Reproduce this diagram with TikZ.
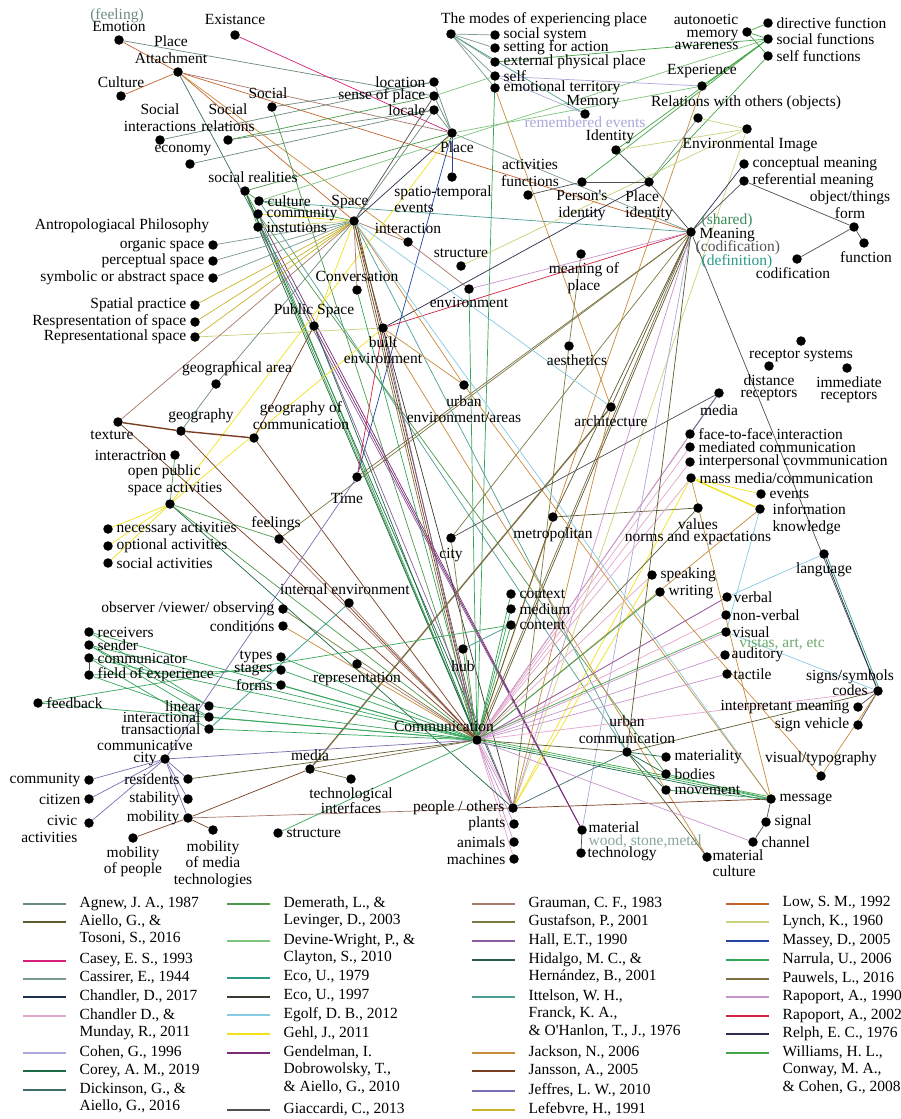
\documentclass[tikz,border=0pt]{standalone}
\usepackage{fontspec}
\setmainfont{Liberation Serif}
\usetikzlibrary{positioning, backgrounds}

% reference colours (one per source)
\definecolor{kAgnew}{HTML}{6B8A7A}
\definecolor{kAiello}{HTML}{5C5A2E}
\definecolor{kCasey}{HTML}{D4207A}
\definecolor{kCassirer}{HTML}{7A9A8C}
\definecolor{kChandA}{HTML}{1E3050}
\definecolor{kChandB}{HTML}{E6A6CC}
\definecolor{kCohen}{HTML}{A9A9DC}
\definecolor{kCorey}{HTML}{1D6B45}
\definecolor{kDickin}{HTML}{3F6B6B}
\definecolor{kDemer}{HTML}{4D9A4D}
\definecolor{kDevine}{HTML}{7DC47D}
\definecolor{kEcoA}{HTML}{2A9A88}
\definecolor{kEcoB}{HTML}{3A3A30}
\definecolor{kEgolf}{HTML}{86CBE0}
\definecolor{kGehl}{HTML}{F2E21C}
\definecolor{kGendel}{HTML}{7A2A78}
\definecolor{kGiacc}{HTML}{4E4E4E}
\definecolor{kGraum}{HTML}{A8786A}
\definecolor{kGustaf}{HTML}{7C7A40}
\definecolor{kHall}{HTML}{8C5C9C}
\definecolor{kHidal}{HTML}{2C5A48}
\definecolor{kIttel}{HTML}{4F9E94}
\definecolor{kJacks}{HTML}{C98A3A}
\definecolor{kJanss}{HTML}{7A3E22}
\definecolor{kJeffr}{HTML}{7C6CB4}
\definecolor{kLefeb}{HTML}{C8B428}
\definecolor{kLow}{HTML}{C4642A}
\definecolor{kLynch}{HTML}{CAD27A}
\definecolor{kMassey}{HTML}{2444A0}
\definecolor{kNarru}{HTML}{35A55A}
\definecolor{kPauw}{HTML}{7A7044}
\definecolor{kRapA}{HTML}{C896CC}
\definecolor{kRapB}{HTML}{D42244}
\definecolor{kRelph}{HTML}{2C2C4C}
\definecolor{kWilli}{HTML}{46A446}
% text colours
\definecolor{kFeelTxt}{HTML}{6E8F7F}
\definecolor{kRemTxt}{HTML}{A9A9DC}
\definecolor{kShareTxt}{HTML}{3D8C5A}
\definecolor{kCodTxt}{HTML}{555555}
\definecolor{kDefTxt}{HTML}{2A9A8A}
\definecolor{kVistaTxt}{HTML}{6AAA6A}
\definecolor{kWoodTxt}{HTML}{8AA898}

\newcommand{\lblfont}{\fontsize{15.5}{16.5}\selectfont}
\newcommand{\tightfont}{\fontsize{15.5}{12.5}\selectfont}
\newcommand{\keyfont}{\fontsize{15.5}{17.5}\selectfont}
\newcommand{\keyrow}[5]{%
  \draw [swatch, #4] (#2-55,#3) -- (#2-12,#3);
  \node (#1) [lbl, font=\keyfont, anchor=north west, align=left] at (#2,#3-9) {#5};}

\tikzset{
  dot/.style={circle, fill=black, inner sep=0pt, minimum size=9.5pt},
  lbl/.style={font=\lblfont, inner sep=1.5pt},
  link/.style={line width=0.7pt},
  fat/.style={line width=1.4pt},
  swatch/.style={line width=2.4pt}
}

\begin{document}
\begin{tikzpicture}[x=1pt, y=-1pt,
    every label/.style={lbl}, label distance=2pt]
    \useasboundingbox (0,0) rectangle (901,1119);

    % top left
    \node (emo) [dot, label={above:Emotion}] at (119,40) {};
    \node (feel) [lbl, text=kFeelTxt] at (117,16) {(feeling)};
    \node (exist) [dot, label={[label distance=4pt]above:Existance}] at (235,35) {};
    \node (patt) [dot, label={[align=center, xshift=-7pt]above:Place\\Attachment}] at (178,72) {};
    \node (cult) [dot, label={above:Culture}] at (121,96) {};
    \node (soc) [dot, label={[xshift=-4pt]above:Social}] at (272,107) {};
    \node (sint) [dot, label={[align=center]above:Social\\interactions}] at (160,140) {};
    \node (srel) [dot, label={[align=center]above:Social\\relations}] at (228,140) {};
    \node (econ) [dot, label={[xshift=-7pt]above:economy}] at (190,164) {};
    \node (sreal) [dot, label={[xshift=8pt]above:social realities}] at (245,191) {};
    \node (cultr) [dot, label={right:culture}] at (259,201) {};
    \node (comty) [dot, label={right:community}] at (258,214) {};
    \node (inst) [dot, label={right:instutions}] at (258,227) {};
    \node (anth) [lbl] at (122,226) {Antropologiacal Philosophy};
    \node (orgs) [dot, label={left:organic space}] at (213,245) {};
    \node (percs) [dot, label={left:perceptual space}] at (213,261) {};
    \node (syms) [dot, label={left:symbolic or abstract space}] at (213,278) {};
    \node (spra) [dot, label={left:Spatial practice}] at (195,305) {};
    \node (resp) [dot, label={left:Respresentation of space}] at (195,322) {};
    \node (reps) [dot, label={left:Representational space}] at (195,337) {};

    % top centre
    \node (mdot) [dot, label={[xshift=93pt, label distance=1pt]above:The modes of experiencing place}] at (451,34) {};
    \node (ssys) [dot, label={right:social system}] at (495,35) {};
    \node (sact) [dot, label={right:setting for action}] at (495,48) {};
    \node (epp) [dot, label={right:external physical place}] at (495,62) {};
    \node (self) [dot, label={right:self}] at (495,76) {};
    \node (emot) [dot, label={right:emotional territory}] at (495,88) {};
    \node (loc) [dot, label={left:location}] at (434,82) {};
    \node (sop) [dot, label={left:sense of place}] at (434,96) {};
    \node (locale) [dot, label={left:locale}] at (434,110) {};
    \node (place) [dot, label={[xshift=5pt]below:Place}] at (452,133) {};
    \node (ste) [dot, label={[align=left, xshift=-9pt]below:spatio-temporal\\events}] at (452,177) {};
    \node (mem) [dot, label={[xshift=8pt, label distance=-1pt]above:Memory},
        label={[text=kRemTxt, label distance=-4pt]below:remembered events}] at (585,114) {};
    \node (actf) [dot, label={[align=center, xshift=2pt]above:activities\\functions}] at (528,195) {};
    \node (pid) [dot, label={[align=center]below:Person\textquotesingle s\\identity}] at (582,182) {};
    \node (space) [dot, label={[xshift=-4pt, label distance=6pt]above:Space}] at (354,221) {};
    \node (inter) [dot, label={above:interaction}] at (408,242) {};
    \node (struct) [dot, label={above:structure}] at (461,266) {};
    \node (conv) [dot, label={above:Conversation}] at (357,290) {};
    \node (mop) [dot, label={[align=center, xshift=3pt]below:meaning of\\place}] at (581,254) {};
    \node (env) [dot, label={below:environment}] at (469,289) {};

    % top right
    \node (auto) [dot, label={[align=right, font=\tightfont]left:autonoetic\\memory\\awareness}] at (747,32) {};
    \node (dirf) [dot, label={right:directive function}] at (768,23) {};
    \node (socf) [dot, label={right:social functions}] at (768,39) {};
    \node (selff) [dot, label={right:self functions}] at (768,56) {};
    \node (exper) [dot, label={above:Experience}] at (702,86) {};
    \node (relo) [dot, label={[xshift=48pt]above:Relations with others (objects)}] at (698,118) {};
    \node (envi) [dot, label={[xshift=3pt]below:Environmental Image}] at (747,129) {};
    \node (ident) [dot, label={[label distance=0pt, xshift=-6pt]above:Identity}] at (616,150) {};
    \node (plid) [dot, label={[align=left]below:Place\\identity}] at (649,182) {};
    \node (conm) [dot, label={right:conceptual meaning}] at (744,164) {};
    \node (refm) [dot, label={right:referential meaning}] at (744,181) {};
    \node (form) [dot, label={[align=center, xshift=-4pt]above:object/things\\form}] at (854,227) {};
    \node (func) [dot, label={[xshift=2pt]below:function}] at (864,243) {};
    \node (codif) [dot, label={[xshift=-4pt]below:codification}] at (797,259) {};
    \node (mean) [dot] at (691,232) {};
    \node (mshr) [lbl, text=kShareTxt, anchor=west] at (700,221) {(shared)};
    \node (mtxt) [lbl, anchor=west] at (698,235) {Meaning};
    \node (mcod) [lbl, text=kCodTxt, anchor=west] at (694,248) {(codification)};
    \node (mdef) [lbl, text=kDefTxt, anchor=west] at (700,262) {(definition)};

    % right middle
    \node (recs) [dot, label={below:receptor systems}] at (801,341) {};
    \node (distr) [dot, label={[align=center, font=\tightfont]below:distance\\receptors}] at (769,366) {};
    \node (immr) [dot, label={[align=center, font=\tightfont, xshift=2pt]below:immediate\\receptors}] at (847,368) {};
    \node (mediar) [dot, label={[label distance=5pt]below:media}] at (719,393) {};
    \node (ftf) [dot, label={right:face-to-face interaction}] at (690,434) {};
    \node (medc) [dot, label={right:mediated communication}] at (690,447) {};
    \node (ipc) [dot, label={right:interpersonal covmmunication}] at (690,462) {};
    \node (mmc) [dot, label={right:mass media/communication}] at (691,478) {};
    \node (evts) [dot, label={right:events}] at (761,494) {};
    \node (info) [dot] at (760,509) {};
    \node (infol) [lbl, align=left, anchor=west] at (771,519) {information\\knowledge};
    \node (vals) [dot, label={[align=center, font=\tightfont, label distance=4pt]below:values\\norms and expactations}] at (698,508) {};
    \node (arch) [dot, label={below:architecture}] at (611,407) {};
    \node (lang) [dot, label={below:language}] at (824,554) {};

    % middle
    \node (pubs) [dot, label={above:Public Space}] at (314,326) {};
    \node (bltenv) [dot, label={[align=center]below:built\\environment}] at (383,328) {};
    \node (aesth) [dot, label={[xshift=8pt]below:aesthetics}] at (569,346) {};
    \node (urbenv) [dot, label={[align=center, label distance=4pt]below:urban\\environment/areas}] at (464,385) {};
    \node (time) [dot, label={[xshift=-10pt, label distance=10pt]below:Time}] at (357,477) {};
    \node (metro) [dot, label={[label distance=4pt]below:metropolitan}] at (553,517) {};
    \node (city) [dot, label={[label distance=4pt]below:city}] at (451,538) {};

    % left middle
    \node (garea) [dot, label={[xshift=21pt]above:geographical area}] at (216,384) {};
    \node (text) [dot, label={[xshift=-6pt]below:texture}] at (118,422) {};
    \node (geog) [dot, label={[xshift=20pt]above:geography}] at (181,431) {};
    \node (gcom) [dot, label={[align=center, xshift=47pt]above:geography of\\communication}] at (254,438) {};
    \node (intr) [dot, label={left:interactrion}] at (175,455) {};
    \node (opsa) [dot, label={[align=left, xshift=5pt]above:open public\\space activities}] at (170,504) {};
    \node (necs) [dot, label={right:necessary activities}] at (108,529) {};
    \node (opts) [dot, label={right:optional activities}] at (108,546) {};
    \node (socs) [dot, label={right:social activities}] at (108,563) {};
    \node (feel2) [dot, label={[xshift=-3pt]above:feelings}] at (279,539) {};

    % lower left
    \node (obsv) [dot, label={left:observer /viewer/ observing}] at (283,609) {};
    \node (cond) [dot, label={left:conditions}] at (283,626) {};
    \node (intenv) [dot, label={[xshift=-4pt]above:internal environment}] at (349,603) {};
    \node (recv) [dot, label={right:receivers}] at (89,632) {};
    \node (send) [dot, label={right:sender}] at (89,645) {};
    \node (commr) [dot, label={right:communicator}] at (89,658) {};
    \node (foe) [dot, label={right:field of experience}] at (89,675) {};
    \node (types) [dot, label={left:types}] at (281,657) {};
    \node (stages) [dot, label={left:stages}] at (281,670) {};
    \node (forms) [dot, label={left:forms}] at (281,685) {};
    \node (repr) [dot, label={below:representation}] at (357,664) {};
    \node (fback) [dot, label={right:feedback}] at (38,703) {};
    \node (lin) [dot, label={left:linear}] at (209,706) {};
    \node (intal) [dot, label={left:interactional}] at (209,717) {};
    \node (trans) [dot, label={left:transactional}] at (209,729) {};
    \node (ccity) [dot] at (165,759) {};
    \node (ccl) [lbl, align=center, font=\tightfont] at (145,753) {communicative\\city};
    \node (cmty) [dot, label={left:community}] at (89,780) {};
    \node (resid) [dot, label={left:residents}] at (188,779) {};
    \node (citz) [dot, label={left:citizen}] at (89,799) {};
    \node (stab) [dot, label={left:stability}] at (188,799) {};
    \node (civic) [dot] at (89,823) {};
    \node (civl) [lbl, align=right, anchor=north east] at (79,814) {civic\\activities};
    \node (mobil) [dot, label={left:mobility}] at (188,818) {};
    \node (mobp) [dot, label={[align=center]below:mobility\\of people}] at (133,838) {};
    \node (mobm) [dot, label={[align=center, label distance=4pt]below:mobility\\of media\\technologies}] at (213,830) {};
    \node (strb) [dot, label={right:structure}] at (278,833) {};

    % lower centre
    \node (ctx) [dot, label={right:context}] at (511,594) {};
    \node (medm) [dot, label={right:medium}] at (511,609) {};
    \node (cont) [dot, label={right:content}] at (511,625) {};
    \node (hub) [dot, label={[label distance=5pt]below:hub}] at (463,649) {};
    \node (commn) [dot, label={[xshift=-33pt]above:Communication}] at (477,740) {};
    \node (medl) [dot, label={above:media}] at (310,769) {};
    \node (techi) [dot, label={[align=center, font=\tightfont]below:technological\\interfaces}] at (351,779) {};
    \node (ppl) [dot, label={left:people / others}] at (513,808) {};
    \node (plnt) [dot, label={left:plants}] at (514,824) {};
    \node (anml) [dot, label={left:animals}] at (514,842) {};
    \node (mach) [dot, label={left:machines}] at (514,859) {};
    \node (matl) [dot, label={[label distance=0pt, yshift=3pt]right:material}] at (582,830) {};
    \node (wood) [lbl, text=kWoodTxt, anchor=west] at (587,841) {wood, stone,metal};
    \node (tech) [dot, label={[label distance=0pt, yshift=-1pt]right:technology}] at (581,853) {};

    % lower right
    \node (speak) [dot, label={right:speaking}] at (652,575) {};
    \node (writ) [dot, label={right:writing}] at (660,592) {};
    \node (verb) [dot, label={[label distance=0pt]right:verbal}] at (727,597) {};
    \node (nverb) [dot, label={[label distance=0pt]right:non-verbal}] at (726,615) {};
    \node (vis) [dot, label={[label distance=0pt]right:visual}] at (726,632) {};
    \node (vist) [lbl, text=kVistaTxt] at (782,644) {vistas, art, etc};
    \node (aud) [dot, label={[label distance=0pt]right:auditory}] at (725,655) {};
    \node (tact) [dot, label={[label distance=0pt]right:tactile}] at (727,674) {};
    \node (signs) [dot] at (878,691) {};
    \node (sgnl) [lbl, align=center, font=\tightfont] at (850,683) {signs/symbols\\codes};
    \node (intm) [dot, label={left:interpretant meaning}] at (858,707) {};
    \node (sveh) [dot, label={left:sign vehicle}] at (858,725) {};
    \node (vtyp) [dot, label={[label distance=4pt]above:visual/typography}] at (821,776) {};
    \node (urbc) [dot, label={[align=center]above:urban\\communication}] at (627,752) {};
    \node (matr) [dot, label={right:materiality}] at (666,757) {};
    \node (bod) [dot, label={right:bodies}] at (666,774) {};
    \node (mov) [dot, label={right:movement}] at (666,790) {};
    \node (msg) [dot, label={right:message}] at (771,799) {};
    \node (sig) [dot, label={right:signal}] at (766,822) {};
    \node (chan) [dot, label={right:channel}] at (753,842) {};
    \node (matc) [dot] at (707,857) {};
    \node (matcl) [lbl, align=left, anchor=north west] at (711,848) {material\\culture};

    \begin{pgfonlayer}{background}
    \fill [white] (0,0) rectangle (901,1119);
    % place attachment and the social nodes
    \path [link]
        (emo) edge [kLow] (patt)
        (emo) edge [kAgnew] (sop)
        (cult) edge [kLow] (patt)
        (patt) edge [kLow] (space)
        (patt) edge [kJacks] (inter)
        (patt) edge [kLow] (mean)
        (patt) edge [kDickin] (pubs)
        (patt) edge [kGraum] (place)
        (exist) edge [kCasey] (place)
        (soc) edge [kAgnew] (loc)
        (soc) edge [kDemer] (commn)
        (sint) edge [kAgnew] (loc)
        (srel) edge [kDemer] (sop)
        (srel) edge [kAgnew] (locale)
        (econ) edge [kAgnew] (locale)
        (sreal) edge [kDemer] (place)
        (sreal) edge [kDemer] (cultr)
        (sreal) edge [kDemer] (comty)
        (sreal) edge [kDemer] (inst)
        (sreal) edge [kDemer] (commn)
        (sreal) edge [kCorey] (ppl)
        (cultr) edge [kWilli] (space)
        (cultr) edge [kIttel] (mean)
        (cultr) edge [kIttel] (urbc)
        (comty) edge [kGehl] (space)
        (comty) edge [kGendel] (matl)
        (comty) edge [kNarru] (commn)
        (comty) edge [kDemer] (bod)
        (inst) edge [kLynch] (space)
        (inst) edge [kHall] (matl)
        (inst) edge [kCorey] (commn)
        (orgs) edge [kCassirer] (space)
        (percs) edge [kCassirer] (space)
        (syms) edge [kCassirer] (space)
        (spra) edge [kLefeb] (space)
        (resp) edge [kLefeb] (space)
        (reps) edge [kLefeb] (space)
        (reps) edge [kLynch] (bltenv);
    % place and the modes
    \path [link]
        (loc) edge [kAgnew] (place)
        (sop) edge [kAgnew] (place)
        (locale) edge [kAgnew] (place)
        (sop) edge [kGiacc] (space)
        (locale) edge [kAgnew] (space)
        (sop) edge [kDevine] (self)
        (place) edge [kMassey] (ste)
        (place) edge [kMassey] (time)
        (place) edge [kGehl] (opsa)
        (place) edge [kDevine] (exper)
        (place) edge [kCassirer] (mean)
        (place) edge [kRelph] (space)
        (mdot) edge [kCassirer] (ssys)
        (mdot) edge [kCassirer] (sact)
        (mdot) edge [kCassirer] (epp)
        (mdot) edge [kCassirer] (self)
        (mdot) edge [kCassirer] (emot)
        (mdot) edge [kIttel] (mem)
        (self) edge [kCohen] (mem)
        (self) edge [kCohen] (exper)
        (self) edge [kNarru] (commn)
        (emot) edge [kJacks] (arch);
    % memory, identity, image
    \path [link]
        (epp) edge [kWilli] (socf)
        (socf) edge [kWilli] (pid)
        (socf) edge [kWilli] (ident)
        (socf) edge [kWilli] (exper)
        (socf) edge [kDevine] (cultr)
        (dirf) edge [kWilli] (auto)
        (auto) edge [kWilli] (socf)
        (auto) edge [kWilli] (selff)
        (selff) edge [kWilli] (plid)
        (exper) edge [kJacks] (commn)
        (relo) edge [kLynch] (envi)
        (relo) edge [kCassirer] (plid)
        (envi) edge [kLynch] (ident)
        (envi) edge [kLynch] (ppl)
        (envi) edge [kLynch] (struct)
        (ident) edge [kHidal] (plid)
        (plid) edge [kGiacc] (pid)
        (plid) edge [kGiacc] (mean)
        (bltenv) edge [kRelph] (plid)
        (pid) edge [kGiacc] (actf);
    % meaning
    \path [link]
        (mean) edge [kChandA] (conm)
        (mean) edge [kGiacc] (refm)
        (refm) edge [kGiacc] (form)
        (form) edge [kGiacc] (func)
        (form) edge [kGiacc] (codif)
        (mean) edge [kGiacc] (signs)
        (mean) edge [kRapB] (bltenv)
        (mean) edge [kRapA] (env)
        (mean) edge [kPauw] (commn)
        ([xshift=2pt]mean.center) edge [kAiello] ([xshift=2pt]commn.center)
        (mean) edge [kGustaf] (city)
        (mean) edge [kAiello] (metro)
        (mean) edge [kRapA] (ppl)
        (mean) edge [kCohen] (matl)
        (mean) edge [kPauw] (time)
        (mean) edge [kGustaf] (feel2)
        (mop) edge [kGustaf] (aesth)
        (aesth) edge [kGustaf] (ppl);
    % space and built environment
    \path [link]
        (space) edge [kJanss] (bltenv)
        (space) edge [kJanss] (commn)
        ([xshift=2pt]space.center) edge [kAiello] ([xshift=2pt]commn.center)
        ([xshift=-2pt]space.center) edge [kGustaf] ([xshift=-2pt]commn.center)
        (space) edge [kGraum] (conv)
        (space) edge [kGehl] (pubs)
        (space) edge [kGraum] (inter)
        (inter) edge [kGraum] (env)
        (space) edge [kEgolf] (msg)
        (space) edge [kEgolf] (arch)
        (space) edge [kIttel] (urbc)
        (conv) edge [kNarru] (commn)
        (pubs) edge [kGendel] (matl)
        (pubs) edge [kHall] (ppl)
        (pubs) edge [kCorey] (commn)
        (bltenv) edge [kHall] (commn)
        (bltenv) edge [kEcoB] (ppl)
        (bltenv) edge [kJacks] (urbenv)
        (bltenv) edge [kJacks] (matc)
        (bltenv) edge [kGehl] (opsa)
        (env) edge [kNarru] (commn)
        (urbenv) edge [kJacks] (space)
        (urbenv) edge [kJacks] (msg)
        (time) edge [kRapB] (bltenv)
        (city) edge [kGiacc] (mediar)
        (city) edge [kGustaf] (commn)
        (metro) edge [kAiello] (vals)
        (metro) edge [kAiello] (commn)
        (arch) edge [kAiello] (mean)
        (arch) edge [kJacks] (ppl);
    \path [fat] (arch) edge [kPauw] (medl);
    % media, senses, signs
    \path [link]
        (mediar) edge [kGiacc] (ftf)
        (mediar) edge [kJeffr] (commn)
        (ftf) edge [kChandB] (commn)
        (medc) edge [kChandB] (commn)
        (ipc) edge [kChandB] (commn)
        (mmc) edge [kChandB] (commn)
        (mmc) edge [kGehl] (evts)
        (mmc) edge [kGehl] (ppl)
        (info) edge [kJacks] (commn)
        (info) edge [kEgolf] (vis)
        (vals) edge [kAiello] (commn)
        (lang) edge [kChandA] (signs)
        ([xshift=2pt]lang.center) edge [kEcoA] ([xshift=2pt]signs.center)
        (lang) edge [kEgolf] (verb)
        (speak) edge [kChandB] (commn)
        (speak) edge [kGehl] (ppl)
        (writ) edge [kNarru] (commn)
        (verb) edge [kChandB] (commn)
        (verb) edge [kHall] (commn)
        (nverb) edge [kChandB] (commn)
        (vis) edge [kRapA] (commn)
        ([yshift=2pt]vis.center) edge [kWilli] ([yshift=2pt]commn.center)
        (aud) edge [kRapA] (commn)
        (tact) edge [kRapA] (commn)
        (vis) edge [kEgolf] (signs)
        (commn) edge [kChandB] (signs)
        (signs) edge [kGiacc] (intm)
        (signs) edge [kGiacc] (sveh)
        (signs) edge [kJacks] (vtyp)
        (signs) edge [kAiello] (urbc)
        (vtyp) edge [kJacks] (writ);
    \path [fat] (mmc) edge [kGehl] (info);
    % urban communication and message
    \path [link]
        (urbc) edge [kCorey] (matr)
        (urbc) edge [kCorey] (bod)
        (urbc) edge [kCorey] (mov)
        (urbc) edge [kAiello] (commn)
        (urbc) edge [kAiello] (matc)
        (urbc) edge [kAiello] (mean)
        (urbc) edge [kDickin] (ppl)
        (msg) edge [kGiacc] (sig)
        (sig) edge [kGiacc] (chan)
        (msg) edge [kNarru] (commn)
        ([yshift=2pt]msg.center) edge [kWilli] ([yshift=2pt]commn.center)
        ([yshift=-2pt]msg.center) edge [kCorey] ([yshift=-2pt]commn.center)
        (msg) edge [kJanss] (ppl)
        (msg) edge [kNarru] (bod)
        (msg) edge [kNarru] (mov)
        (msg) edge [kJacks] (mmc)
        (chan) edge [kRapA] (commn)
        (matl) edge [kGiacc] (tech)
        (commn) edge [kRapA] (ppl)
        ([xshift=2pt]commn.center) edge [kChandB] ([xshift=2pt]ppl.center)
        (commn) edge [kRapA] (plnt)
        (commn) edge [kRapA] (anml)
        (commn) edge [kChandB] (mach)
        (hub) edge [kNarru] (commn)
        (hub) edge [kIttel] (cont)
        (ctx) edge [kNarru] (commn)
        (medm) edge [kNarru] (commn)
        (cont) edge [kNarru] (commn);
    % left side
    \path [link]
        (intenv) edge [kGraum] (commn)
        (obsv) edge [kGustaf] (commn)
        (cond) edge [kJacks] (commn)
        (repr) edge [kGraum] (commn)
        (types) edge [kNarru] (commn)
        (stages) edge [kNarru] (commn)
        (forms) edge [kNarru] (commn)
        (foe) edge [kNarru] (stages)
        (feel2) edge [kDemer] (opsa)
        (feel2) edge [kGraum] (commn)
        (necs) edge [kGehl] (opsa)
        (opts) edge [kGehl] (opsa)
        (socs) edge [kGehl] (opsa)
        (intr) edge [kDemer] (opsa)
        (opsa) edge [kCorey] (ppl)
        (opsa) edge [kDemer] (commn)
        (text) edge [kGraum] (space)
        (text) edge [kJanss] (commn)
        (garea) edge [kAgnew] (geog)
        (garea) edge [kAgnew] (space)
        (geog) edge [kJanss] (commn)
        (gcom) edge [kJanss] (commn)
        (gcom) edge [kJanss] (pubs)
        (recv) edge [kNarru] (lin)
        (recv) edge [kNarru] (commn)
        (send) edge [kNarru] (lin)
        (send) edge [kNarru] (intal)
        (send) edge [kNarru] (commn)
        (commr) edge [kNarru] (trans)
        (commr) edge [kNarru] (commn)
        (commr) edge [kGiacc] (foe)
        (foe) edge [kNarru] (intal)
        (fback) edge [kNarru] (cont)
        (fback) edge [kNarru] (commn)
        (lin) edge [kNarru] (commn)
        (intal) edge [kNarru] (commn)
        (trans) edge [kNarru] (commn)
        (trans) edge [kEcoA] (intenv);
    \path [fat]
        (text) edge [kJanss] (geog)
        (geog) edge [kJanss] (gcom);
    % communicative city
    \path [link]
        (ccity) edge [kJeffr] (cmty)
        (ccity) edge [kJeffr] (citz)
        (ccity) edge [kJeffr] (civic)
        (ccity) edge [kJeffr] (resid)
        (ccity) edge [kJeffr] (stab)
        (ccity) edge [kJeffr] (mobil)
        (ccity) edge [kJeffr] (commn)
        (ccity) edge [kJeffr] (time)
        (resid) edge [kAiello] (commn)
        (mobil) edge [kJanss] (medl)
        (mobil) edge [kGraum] (ppl)
        (mobil) edge [kJanss] (mobp)
        (mobil) edge [kJanss] (mobm)
        (medl) edge [kPauw] (techi)
        (medl) edge [kPauw] (commn)
        (strb) edge [kNarru] (commn);
    \end{pgfonlayer}

    % key
    \keyrow{k1}{78}{904}{kAgnew}{Agnew, J. A., 1987}
    \keyrow{k2}{78}{922}{kAiello}{Aiello, G., \&\\Tosoni, S., 2016}
    \keyrow{k3}{78}{961}{kCasey}{Casey, E. S., 1993}
    \keyrow{k4}{78}{979}{kCassirer}{Cassirer, E., 1944}
    \keyrow{k5}{78}{997}{kChandA}{Chandler, D., 2017}
    \keyrow{k6}{78}{1016}{kChandB}{Chandler D., \&\\Munday, R., 2011}
    \keyrow{k7}{78}{1053}{kCohen}{Cohen, G., 1996}
    \keyrow{k8}{78}{1071}{kCorey}{Corey, A. M., 2019}
    \keyrow{k9}{78}{1090}{kDickin}{Dickinson, G., \&\\Aiello, G., 2016}
    \keyrow{k10}{282}{904}{kDemer}{Demerath, L., \&\\Levinger, D., 2003}
    \keyrow{k11}{282}{941}{kDevine}{Devine-Wright, P., \&\\Clayton, S., 2010}
    \keyrow{k12}{282}{978}{kEcoA}{Eco, U., 1979}
    \keyrow{k13}{282}{997}{kEcoB}{Eco, U., 1997}
    \keyrow{k14}{282}{1015}{kEgolf}{Egolf, D. B., 2012}
    \keyrow{k15}{282}{1034}{kGehl}{Gehl, J., 2011}
    \keyrow{k16}{282}{1053}{kGendel}{Gendelman, I.\\Dobrowolsky, T.,\\\& Aiello, G., 2010}
    \keyrow{k17}{282}{1110}{kGiacc}{Giaccardi, C., 2013}
    \keyrow{k18}{527}{904}{kGraum}{Grauman, C. F., 1983}
    \keyrow{k19}{527}{922}{kGustaf}{Gustafson, P., 2001}
    \keyrow{k20}{527}{941}{kHall}{Hall, E.T., 1990}
    \keyrow{k21}{527}{960}{kHidal}{Hidalgo, M. C., \&\\Hernández, B., 2001}
    \keyrow{k22}{527}{997}{kIttel}{Ittelson, W. H.,\\Franck, K. A.,\\\& O\textquotesingle Hanlon, T., J., 1976}
    \keyrow{k23}{527}{1053}{kJacks}{Jackson, N., 2006}
    \keyrow{k24}{527}{1071}{kJanss}{Jansson, A., 2005}
    \keyrow{k25}{527}{1091}{kJeffr}{Jeffres, L. W., 2010}
    \keyrow{k26}{527}{1110}{kLefeb}{Lefebvre, H., 1991}
    \keyrow{k27}{781}{904}{kLow}{Low, S. M., 1992}
    \keyrow{k28}{781}{922}{kLynch}{Lynch, K., 1960}
    \keyrow{k29}{781}{941}{kMassey}{Massey, D., 2005}
    \keyrow{k30}{781}{960}{kNarru}{Narrula, U., 2006}
    \keyrow{k31}{781}{979}{kPauw}{Pauwels, L., 2016}
    \keyrow{k32}{781}{997}{kRapA}{Rapoport, A., 1990}
    \keyrow{k33}{781}{1016}{kRapB}{Rapoport, A., 2002}
    \keyrow{k34}{781}{1034}{kRelph}{Relph, E. C., 1976}
    \keyrow{k35}{781}{1053}{kWilli}{Williams, H. L.,\\Conway, M. A.,\\\& Cohen, G., 2008}
\end{tikzpicture}
\end{document}
